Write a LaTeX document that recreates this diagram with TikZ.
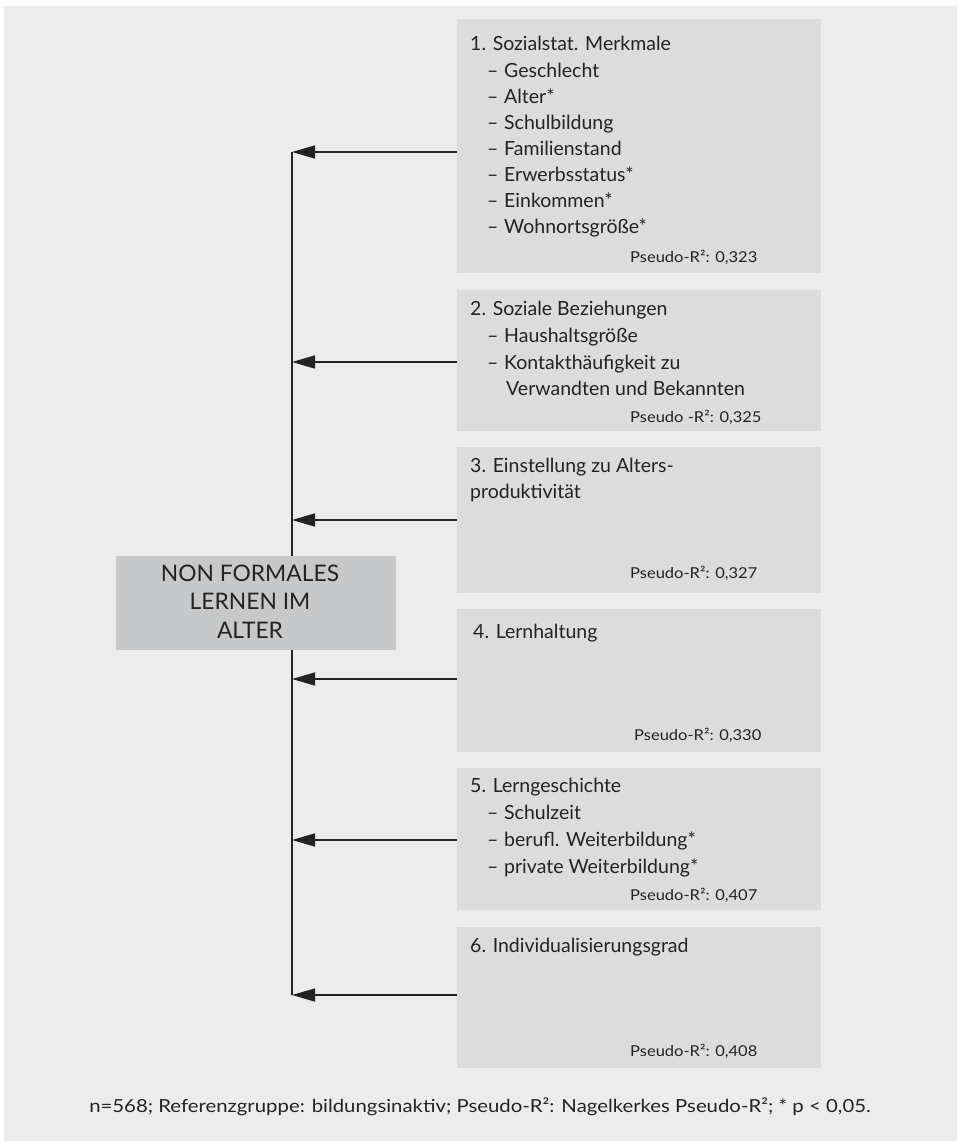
\documentclass[tikz,border=0pt]{standalone}
\usepackage{fontspec}
\setmainfont{Lato}
\newfontfamily\widelato[FakeStretch=1.1]{Lato}
\newfontfamily\notelato[FakeStretch=1.13]{Lato}
\usetikzlibrary{arrows.meta}
\definecolor{panelgray}{HTML}{ECECEC}
\definecolor{boxgray}{HTML}{DCDCDD}
\definecolor{centergray}{HTML}{C7C8C9}
\definecolor{txt}{HTML}{232323}
\newcommand\dashitem[1]{\makebox[17pt][l]{–}#1}
\tikzset{
  x=1pt, y=-1pt,
  factorbox/.style={fill=boxgray, draw=none, minimum width=364pt, inner sep=0pt, anchor=north west},
  centerbox/.style={fill=centergray, draw=none, minimum width=280pt, minimum height=94pt, inner sep=0pt, anchor=north west},
  headtxt/.style={anchor=base west, inner sep=0pt, text=txt, font=\fontsize{19.5}{19.5}\selectfont},
  itemtxt/.style={anchor=base west, inner sep=0pt, text=txt, font=\fontsize{19.5}{19.5}\selectfont},
  rtxt/.style={anchor=base west, inner sep=0pt, text=txt, font=\widelato\fontsize{15}{15}\selectfont},
  ctxt/.style={anchor=base, inner sep=0pt, text=txt, font=\fontsize{22.8}{22.8}\selectfont},
  notetxt/.style={anchor=base, inner sep=0pt, text=txt, font=\notelato\fontsize{18}{18}\selectfont},
  conn/.style={line width=1.5pt, draw=txt},
  arr/.style={conn, -{Triangle[length=23pt, width=13pt]}},
}
\begin{document}
\begin{tikzpicture}
\useasboundingbox (0,0) rectangle (957,1141);
\fill[panelgray] (4,6) rectangle (957,1141);

% factor boxes
\node[factorbox, minimum height=254pt] (b1) at (457,19) {};
\node[factorbox, minimum height=141pt] (b2) at (457,290) {};
\node[factorbox, minimum height=146pt] (b3) at (457,447) {};
\node[factorbox, minimum height=143pt] (b4) at (457,609) {};
\node[factorbox, minimum height=142pt] (b5) at (457,768) {};
\node[factorbox, minimum height=141pt] (b6) at (457,927) {};

% junction points on the collector line
\coordinate (j1) at (292,152);
\coordinate (j2) at (292,362);
\coordinate (j3) at (292,520);
\coordinate (j4) at (292,679);
\coordinate (j5) at (292,840);
\coordinate (j6) at (292,995);

\draw[conn] (j1) -- (j6);

% central box
\node[centerbox] (c) at (116,556) {};
\node[ctxt] (c1) at (250,581) {NON FORMALES};
\node[ctxt] (c2) at (250,609) {LERNEN IM};
\node[ctxt] (c3) at (250,638) {ALTER};

% arrows
\draw[arr] (j1 -| b1.west) -- (j1);
\draw[arr] (j2 -| b2.west) -- (j2);
\draw[arr] (j3 -| b3.west) -- (j3);
\draw[arr] (j4 -| b4.west) -- (j4);
\draw[arr] (j5 -| b5.west) -- (j5);
\draw[arr] (j6 -| b6.west) -- (j6);

% box 1
\node[headtxt] (t1) at (470,50) {1. Sozialstat. Merkmale};
\node[itemtxt] (t1a) at (487,77) {\dashitem{Geschlecht}};
\node[itemtxt] (t1b) at (487,103) {\dashitem{Alter*}};
\node[itemtxt] (t1c) at (487,129) {\dashitem{Schulbildung}};
\node[itemtxt] (t1d) at (487,155) {\dashitem{Familienstand}};
\node[itemtxt] (t1e) at (487,181) {\dashitem{Erwerbsstatus*}};
\node[itemtxt] (t1f) at (487,207) {\dashitem{Einkommen*}};
\node[itemtxt] (t1g) at (487,233) {\dashitem{Wohnortsgröße*}};
\node[rtxt] (r1) at (630,262) {Pseudo-R²: 0,323};

% box 2
\node[headtxt] (t2) at (470,315) {2. Soziale Beziehungen};
\node[itemtxt] (t2a) at (487,342) {\dashitem{Haushaltsgröße}};
\node[itemtxt] (t2b) at (487,369) {\dashitem{Kontakthäufigkeit zu}};
\node[itemtxt] (t2c) at (506,395) {Verwandten und Bekannten};
\node[rtxt] (r2) at (630,422) {Pseudo -R²: 0,325};

% box 3
\node[headtxt] (t3) at (470,472) {3. Einstellung zu Alters-};
\node[headtxt] (t3b) at (470,498) {produktivität};
\node[rtxt] (r3) at (630,578) {Pseudo-R²: 0,327};

% box 4
\node[headtxt] (t4) at (473,638) {4. Lernhaltung};
\node[rtxt] (r4) at (634,740) {Pseudo-R²: 0,330};

% box 5
\node[headtxt] (t5) at (470,792) {5. Lerngeschichte};
\node[itemtxt] (t5a) at (487,819) {\dashitem{Schulzeit}};
\node[itemtxt] (t5b) at (487,846) {\dashitem{berufl. Weiterbildung*}};
\node[itemtxt] (t5c) at (487,873) {\dashitem{private Weiterbildung*}};
\node[rtxt] (r5) at (630,900) {Pseudo-R²: 0,407};

% box 6
\node[headtxt] (t6) at (470,952) {6. Individualisierungsgrad};
\node[rtxt] (r6) at (630,1056) {Pseudo-R²: 0,408};

% footnote
\node[notetxt] (fn) at (480,1112) {n=568; Referenzgruppe: bildungsinaktiv; Pseudo-R²: Nagelkerkes Pseudo-R²; * p < 0,05.};
\end{tikzpicture}
\end{document}
